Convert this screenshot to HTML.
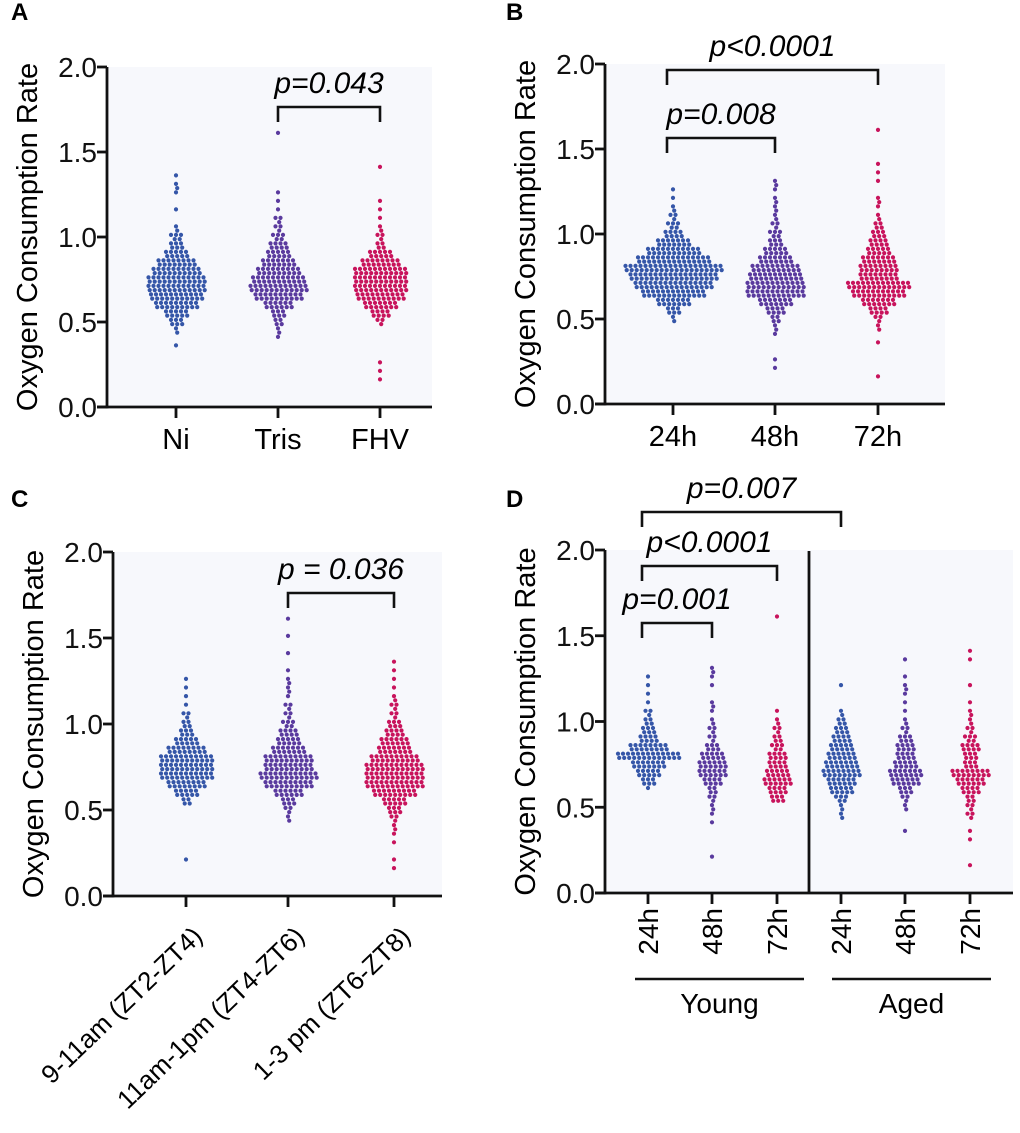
<!DOCTYPE html>
<html><head><meta charset="utf-8"><style>
body{margin:0;background:#fff;}
svg{display:block;font-family:"Liberation Sans",Arial,sans-serif;}
</style></head><body>
<svg id="chart" width="1020" height="1133" viewBox="0 0 1020 1133" xmlns="http://www.w3.org/2000/svg"></svg>
<script>
// bin centers: 0.15 + 0.05*i, i=0..30 ; counts per group
const binStart = 0.15, binStep = 0.05;
const catsA = ["Ni","Tris","FHV"];
const countsA = [
 [0,0,0,0,1,0,2,6,10,18,22,24,24,20,16,10,6,5,2,0,1,0,1,2,1,0,0,0,0,0,0],
 [0,0,0,0,0,1,2,4,6,12,20,24,22,18,14,10,8,5,3,3,1,1,1,0,0,0,0,0,0,1,0],
 [1,1,1,0,0,0,0,3,8,14,20,22,22,22,16,10,4,3,2,1,1,1,0,0,0,1,0,0,0,0,0]
];
const catsB = ["24h","48h","72h"];
const countsB = [
 [0,0,0,0,0,0,0,2,6,14,26,32,36,40,30,22,14,8,5,3,2,1,1,0,0,0,0,0,0,0,0],
 [0,1,1,0,0,1,2,4,8,14,24,24,22,20,14,10,6,5,3,2,2,2,1,2,0,0,0,0,0,0,0],
 [1,0,0,0,1,0,2,3,8,14,22,26,16,16,14,10,8,6,4,2,1,2,0,1,1,1,0,0,0,1,0]
];
const catsC = ["9-11am (ZT2-ZT4)","11am-1pm (ZT4-ZT6)","1-3 pm (ZT6-ZT8)"];
const countsC = [
 [0,1,0,0,0,0,0,0,4,10,16,22,22,22,16,10,6,4,3,1,1,1,1,0,0,0,0,0,0,0,0],
 [0,0,0,0,0,0,2,3,6,12,20,24,20,20,14,10,8,5,3,3,1,2,2,1,0,1,0,1,0,1,0],
 [1,1,0,1,1,2,3,6,10,18,24,24,24,20,14,12,8,6,3,3,2,1,1,1,1,0,0,0,0,0,0]
];
const catsD = ["24h","48h","72h","24h","48h","72h"];
const countsD = [
 [0,0,0,0,0,0,0,0,0,1,6,10,14,26,16,8,6,4,3,1,1,1,1,0,0,0,0,0,0,0,0],
 [0,1,0,0,0,1,1,2,3,4,8,12,12,10,6,3,3,2,1,2,0,1,1,2,0,0,0,0,0,0,0],
 [0,0,0,0,0,0,0,0,6,8,12,10,8,8,5,4,3,2,1,0,0,0,0,0,0,0,0,0,0,1,0],
 [0,0,0,0,0,0,2,2,5,10,12,16,14,12,10,8,6,4,2,0,0,1,0,0,0,0,0,0,0,0,0],
 [0,0,0,0,1,0,0,2,3,6,12,14,10,8,8,6,3,2,1,1,1,2,1,0,1,0,0,0,0,0,0],
 [1,0,0,1,1,0,3,3,4,8,12,16,6,6,8,5,3,2,2,1,0,1,0,0,1,1,0,0,0,0,0]
];
const yTicks = [0.0,0.5,1.0,1.5,2.0];
const sigA = [{a:1,b:2,lvl:0,t:"p=0.043"}];
const sigB = [{a:0,b:1,lvl:0,t:"p=0.008"},{a:0,b:2,lvl:1,t:"p<0.0001"}];
const sigC = [{a:1,b:2,lvl:0,t:"p = 0.036"}];
const sigD = [{a:0,b:1,lvl:0,t:"p=0.001"},{a:0,b:2,lvl:1,t:"p<0.0001"},{a:0,b:3,lvl:2,t:"p=0.007"}];
const colors = ["#3556a8","#5a3a9e","#c8145c"];

const NS="http://www.w3.org/2000/svg";
const svg=document.getElementById('chart');
function mk(tag,attrs,parent,text){const e=document.createElementNS(NS,tag);for(const k in attrs)e.setAttribute(k,attrs[k]);if(text!==undefined)e.textContent=text;(parent||svg).appendChild(e);return e;}

function panel(cfg){
  const g=mk('g',{});
  
  
  const y=v=>cfg.y0-(v/2)*(cfg.y0-cfg.y2);
  const bg=mk('rect',{x:cfg.x0,y:cfg.y2,width:cfg.x1-cfg.x0,height:cfg.y0-cfg.y2,fill:"#f7f8fc"},g);
  
  
  const lt=mk('text',{x:cfg.lx,y:cfg.ly,"font-size":24,"font-weight":"bold"},g,cfg.letter);
  
  
  cfg.counts.forEach((arr,ci)=>{
    const cx=cfg.xs[ci];
    const col=colors[cfg.colIdx[ci]];
    const sg=mk('g',{fill:col},g);
    
    
    arr.forEach((n,i)=>{
      if(!n)return;
      const v=binStart+binStep*i;
      const yc=y(v);
      const rows=[Math.ceil(n/2),Math.floor(n/2)];
      rows.forEach((m,ri)=>{
        const yy=yc+(ri===0?-2.1:2.1);
        for(let k=0;k<m;k++){
          const xx=cx+(k-(m-1)/2)*5.0+(ri===0?0:1.2);
          const c=mk('circle',{cx:xx.toFixed(1),cy:yy.toFixed(1),r:2.1},sg);
          
          
        }
      });
    });
  });
  const ax=mk('g',{stroke:"#111","stroke-width":2.8,fill:"none"},g);
  
  
  mk('line',{x1:cfg.x0,y1:cfg.y2,x2:cfg.x0,y2:cfg.y0+1.4},ax);
  mk('line',{x1:cfg.x0-10,y1:cfg.y0,x2:cfg.x1,y2:cfg.y0},ax);
  yTicks.forEach(t=>{
    mk('line',{x1:cfg.x0-10,y1:y(t),x2:cfg.x0,y2:y(t)},ax);
    const tl=mk('text',{x:cfg.x0-10,y:y(t)+10,"font-size":28,"text-anchor":"end",fill:"#111",stroke:"none"},g,t.toFixed(1));
    
    
  });
  cfg.xs.forEach(x=>mk('line',{x1:x,y1:cfg.y0,x2:x,y2:cfg.y0+11},ax));
  const yt=mk('text',{x:0,y:0,"font-size":29,"text-anchor":"middle",transform:`translate(${cfg.x0-70},${(cfg.y0+cfg.y2)/2}) rotate(-90)`},g,"Oxygen Consumption Rate");
  
  
  cfg.cats.forEach((c,ci)=>{
    const x=cfg.xs[ci];
    let t;
    if(cfg.rot===0) t=mk('text',{x:x,y:cfg.y0+42,"font-size":29,"text-anchor":"middle"},g,c);
    else if(cfg.rot===-45) t=mk('text',{x:0,y:0,"font-size":26,"text-anchor":"end",transform:`translate(${x+18},${cfg.y0+42}) rotate(-44)`},g,c);
    else t=mk('text',{x:0,y:0,"font-size":28,"text-anchor":"end",transform:`translate(${x+10},${cfg.y0+15}) rotate(-90)`},g,c);
    
    
  });
  cfg.sig.forEach(s=>{
    const xa=cfg.xs[s.a]+(cfg.sigDx||0), xb=cfg.xs[s.b];
    const by=cfg.sigY[s.lvl];
    const br=mk('path',{d:`M${xa},${by+15}V${by}H${xb}V${by+15}`,stroke:"#111","stroke-width":2.6,fill:"none"},g);
    
    
    const st=mk('text',{x:(xa+xb)/2,y:by-14,"font-size":30,"font-style":"italic","text-anchor":"middle"},g,s.t);
    
    
  });
  return {g,y};
}
panel({letter:"A",lx:11,ly:20,x0:107,x1:432,y0:407,y2:67,xs:[176,278,380],cats:catsA,counts:countsA,colIdx:[0,1,2],rot:0,sig:sigA,sigY:[107]});
panel({letter:"B",lx:506,ly:20,x0:605,x1:945,y0:404,y2:64,xs:[673,775,878],cats:catsB,counts:countsB,colIdx:[0,1,2],rot:0,sig:sigB,sigY:[138,70],sigDx:-6});
panel({letter:"C",lx:11,ly:507,x0:113,x1:442,y0:896,y2:552,xs:[186,288,394],cats:catsC,counts:countsC,colIdx:[0,1,2],rot:-45,sig:sigC,sigY:[593]});
const pd=panel({letter:"D",lx:506,ly:507,x0:605,x1:1013,y0:893,y2:550,xs:[648,712,777,841,905,970],cats:catsD,counts:countsD,colIdx:[0,1,2,0,1,2],rot:-90,sig:sigD,sigY:[623,566,512],sigDx:-6});
const vl=mk('line',{x1:809,y1:551,x2:809,y2:893,stroke:"#111","stroke-width":2.8},pd.g);


[["Young",635,804],["Aged",832,991]].forEach(([n,a,b])=>{
  const l=mk('line',{x1:a,y1:979,x2:b,y2:979,stroke:"#111","stroke-width":2.6},pd.g);
  
  
  const t=mk('text',{x:(a+b)/2,y:1013,"font-size":28,"text-anchor":"middle"},pd.g,n);
  
  
});
</script>
</body></html>
